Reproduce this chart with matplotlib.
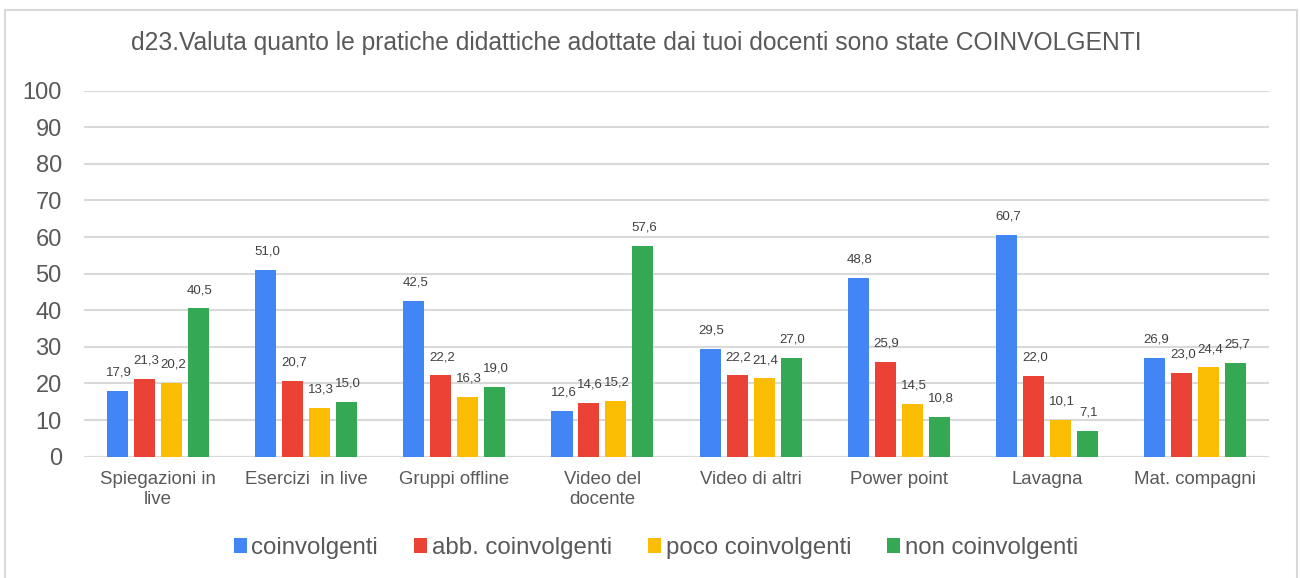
import matplotlib.pyplot as plt
import numpy as np
from matplotlib.patches import Rectangle

categorie = ["Spiegazioni in\nlive", "Esercizi  in live", "Gruppi offline",
             "Video del\ndocente", "Video di altri", "Power point",
             "Lavagna", "Mat. compagni"]
coinvolgenti = [17.9, 51.0, 42.5, 12.6, 29.5, 48.8, 60.7, 26.9]
abb_coinvolgenti = [21.3, 20.7, 22.2, 14.6, 22.2, 25.9, 22.0, 23.0]
poco_coinvolgenti = [20.2, 13.3, 16.3, 15.2, 21.4, 14.5, 10.1, 24.4]
non_coinvolgenti = [40.5, 15.0, 19.0, 57.6, 27.0, 10.8, 7.1, 25.7]

serie = [
    ("coinvolgenti", coinvolgenti, "#4285F4"),
    ("abb. coinvolgenti", abb_coinvolgenti, "#EA4335"),
    ("poco coinvolgenti", poco_coinvolgenti, "#FBBC04"),
    ("non coinvolgenti", non_coinvolgenti, "#34A853"),
]

plt.rcParams['font.family'] = ['Liberation Sans', 'DejaVu Sans']
grigio = "#595959"

fig = plt.figure(figsize=(13, 5.78), dpi=100)
ax = fig.add_axes([0.0646, 0.2099, 0.9116, 0.6332])

# cornice esterna del grafico
fig.patches.append(Rectangle((5 / 1300, -0.1), 1292 / 1300, 1.1 - 10 / 578,
                             transform=fig.transFigure, fill=False,
                             edgecolor="#d9d9d9", linewidth=1.5))

x = np.arange(len(categorie))
passo = 0.182
larghezza = 0.142
for i, (nome, valori, colore) in enumerate(serie):
    pos = x + (i - 1.5) * passo
    ax.bar(pos, valori, larghezza, color=colore, label=nome, zorder=3)
    for xb, v in zip(pos, valori):
        ax.annotate(f"{v:.1f}".replace(".", ","), (xb, v), xytext=(1, 11),
                    textcoords="offset points", ha="center", va="baseline",
                    fontsize=9.5, color="#404040")

ax.set_xlim(-0.5, len(categorie) - 0.5)
ax.set_ylim(0, 100)
ax.set_yticks(range(0, 101, 10))
ax.yaxis.grid(True, color="#d9d9d9", linewidth=1.5, zorder=0)
for s in ax.spines.values():
    s.set_visible(False)
ax.axhline(0, color="#d9d9d9", linewidth=1.5, zorder=2)
ax.tick_params(axis="y", length=0, pad=16, labelsize=17, labelcolor=grigio)
ax.tick_params(axis="x", length=0, pad=10, labelsize=13.4, labelcolor=grigio)
ax.set_xticks(x)
ax.set_xticklabels(categorie, linespacing=1.25)

fig.text(636 / 1300, 1 - 43 / 578,
         "d23.Valuta quanto le pratiche didattiche adottate dai tuoi docenti sono state COINVOLGENTI",
         ha="center", va="center", fontsize=17.7, color=grigio)

ax.legend(loc="center", bbox_to_anchor=(656 / 1300, 1 - 548 / 578),
          bbox_transform=fig.transFigure, ncol=4, frameon=False,
          fontsize=17.3, labelcolor=grigio, handlelength=0.54, handleheight=0.54,
          handletextpad=0.2, columnspacing=1.5)

fig.savefig("out.png", dpi=100)
